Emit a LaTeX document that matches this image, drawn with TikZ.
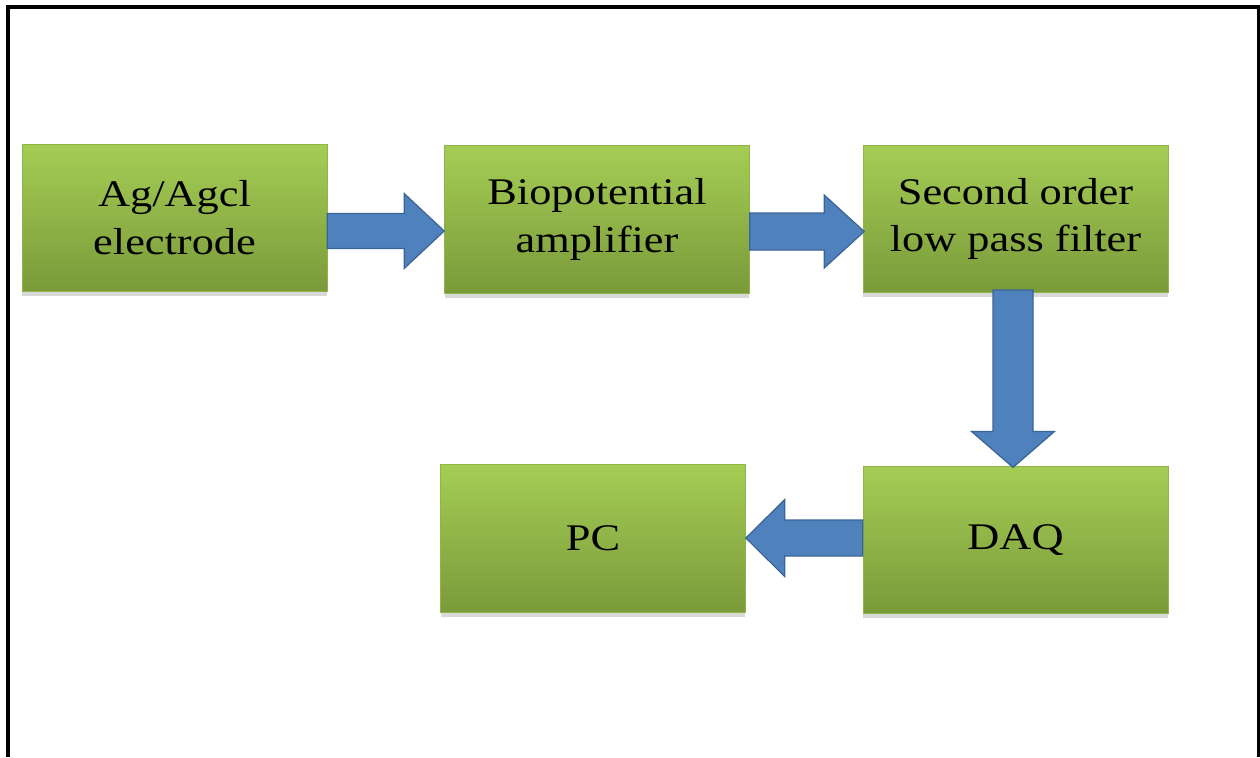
\documentclass[tikz,border=0pt]{standalone}
\usepackage{fontspec}
\setmainfont[FakeStretch=1.18]{Liberation Serif}
\usetikzlibrary{calc,shadows}

\definecolor{boxtop}{HTML}{A5CD55}
\definecolor{boxbot}{HTML}{7A9A3A}
\definecolor{boxedge}{HTML}{8FB548}
\definecolor{arrowfill}{HTML}{4F81BD}
\definecolor{arrowline}{HTML}{3A6496}

\tikzset{
  stage/.style={minimum width=6.1cm, minimum height=2.95cm, inner sep=0pt,
    top color=boxtop, bottom color=boxbot, draw=boxedge, line width=0.4pt,
    drop shadow={shadow xshift=0pt, shadow yshift=-2.5pt, opacity=0.25, fill=black!60},
    align=center, font=\fontsize{21.4}{27.2}\selectfont, text=black},
  blockarrow/.style={fill=arrowfill, draw=arrowline, line width=0.7pt, line join=miter},
  frameline/.style={line width=2.3pt, draw=black}
}

% horizontal block arrow: start, tip, shaft half-width, head half-width, head length (signed)
\newcommand{\hblock}[5]{%
  \draw[blockarrow] ($(#1)+(0,{-(#3)})$) -- ($(#2|-#1)+({-(#5)},{-(#3)})$)
    -- ($(#2|-#1)+({-(#5)},{-(#4)})$) -- (#2|-#1)
    -- ($(#2|-#1)+({-(#5)},{#4})$) -- ($(#2|-#1)+({-(#5)},{#3})$)
    -- ($(#1)+(0,{#3})$) -- cycle;}
% vertical block arrow pointing down
\newcommand{\vblock}[5]{%
  \draw[blockarrow] ($(#1)+({-(#3)},0)$) -- ($(#1|-#2)+({-(#3)},{-(#5)})$)
    -- ($(#1|-#2)+({-(#4)},{-(#5)})$) -- (#1|-#2)
    -- ($(#1|-#2)+({#4},{-(#5)})$) -- ($(#1|-#2)+({#3},{-(#5)})$)
    -- ($(#1)+({#3},0)$) -- cycle;}

\begin{document}
\begin{tikzpicture}[x=0.02cm,y=-0.02cm]
\useasboundingbox (0,0) rectangle (1260,757);
\draw[frameline] (8,757) -- (8,7) -- (1258.5,7) -- (1258.5,757);

\node[stage] (elec) at (174.5,218)  {Ag/Agcl\\electrode};
\node[stage] (amp)  at (597,219.5)  {Biopotential\\amplifier};
\node[stage] (filt) at (1015.5,219) {Second order\\low pass filter};
\node[stage] (daq)  at (1015.5,540) {DAQ};
\node[stage] (pc)   at (593,538.5)  {PC};

\coordinate (a1s) at ($(elec.east)+(0,13)$);
\coordinate (a1t) at ($(amp.west)+(0,11.5)$);
\hblock{a1s}{a1t}{17.5}{37.5}{40}

\coordinate (a2s) at ($(amp.east)+(0,12)$);
\coordinate (a2t) at ($(filt.west)+(1.5,12.5)$);
\hblock{a2s}{a2t}{18.5}{36.5}{40}

\coordinate (a3s) at ($(filt.south)+(-2.5,-3)$);
\coordinate (a3t) at ($(daq.north)+(-2.5,1.5)$);
\vblock{a3s}{a3t}{20}{41.5}{36}

\coordinate (a4s) at ($(daq.west)+(0,-2)$);
\coordinate (a4t) at (pc.east);
\hblock{a4s}{a4t}{18}{38.5}{-39}
\end{tikzpicture}
\end{document}
